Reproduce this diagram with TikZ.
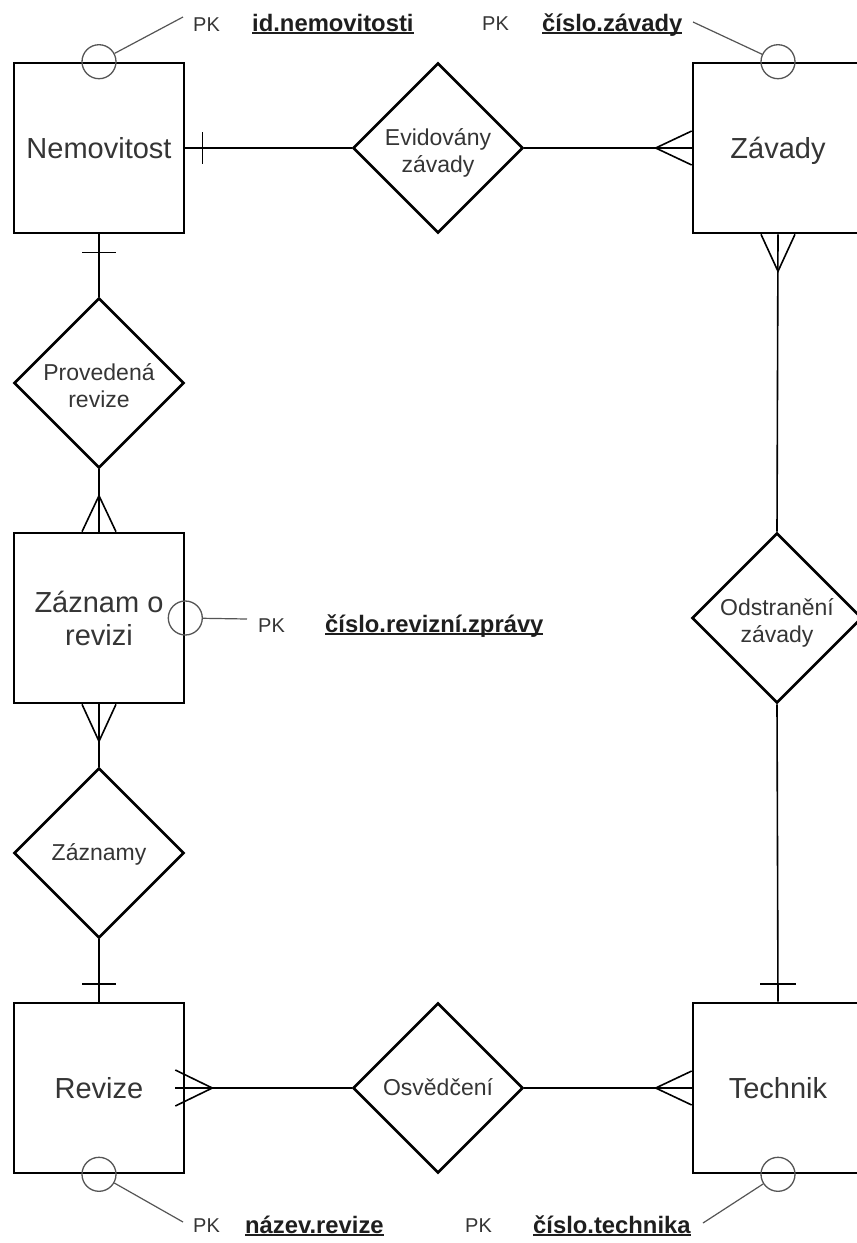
\documentclass[tikz,border=0pt]{standalone}
\usepackage{fontspec}
\setmainfont{Liberation Sans}
\usetikzlibrary{shapes.geometric,calc}
\definecolor{txt}{HTML}{353535}
\definecolor{circ}{HTML}{555555}
\definecolor{keycol}{HTML}{1E1E1E}
\newcommand{\myul}[1]{\setbox0\hbox{#1}\rlap{\rule[-2.6pt]{\wd0}{1.6pt}}\box0}
\newcommand{\mytwo}[3]{\raisebox{0pt}[0pt][#3]{\vtop{\halign{\hfil##\hfil\cr #1\cr #2\cr}}}}
\newcommand{\myone}[2]{\raisebox{0pt}[#2][0pt]{#1}}
\begin{document}
\begin{tikzpicture}[x=1pt,y=-1pt,
  entity/.style={draw, line width=2.6pt, minimum width=170pt, minimum height=170pt, inner sep=0pt, text=txt, font=\fontsize{29}{33}\selectfont},
  rel/.style={diamond, draw, line width=2.6pt, minimum width=170pt, minimum height=170pt, inner sep=0pt, text=txt, font=\fontsize{23}{27}\selectfont},
  conn/.style={line width=1.6pt},
  pkcirc/.style={circle, draw=circ, line width=1.3pt, minimum size=34pt, inner sep=0pt},
  pkline/.style={draw=circ, line width=1.2pt},
  pk/.style={text=txt, font=\fontsize{20}{24}\selectfont, anchor=base west, inner sep=0pt},
  key/.style={text=keycol, font=\bfseries\fontsize{23.8}{28}\selectfont, anchor=base west, inner sep=0pt}]
\useasboundingbox (0,0) rectangle (857,1243);
\fill[white] (0,0) rectangle (857,1243);
\clip (0,0) rectangle (857,1243);

% entities
\node[entity] (nem) at (99,148) {\myone{Nemovitost}{20pt}};
\node[entity] (zav) at (778,148) {\myone{Závady}{20pt}};
\node[entity] (zaz) at (99,618) {\mytwo{Záznam o}{revizi}{12pt}};
\node[entity] (rev) at (99,1088) {\myone{Revize}{20pt}};
\node[entity] (tech) at (778,1088) {\myone{Technik}{20pt}};

% relationships
\node[rel] (evid) at (438,148) {\mytwo{Evidovány}{závady}{6pt}};
\node[rel] (prov) at (99,383) {\mytwo{Provedená}{revize}{6pt}};
\node[rel] (odst) at (777,618) {\mytwo{Odstranění}{závady}{6pt}};
\node[rel] (zazn) at (99,853) {\myone{Záznamy}{15pt}};
\node[rel] (osv) at (438,1088) {\myone{Osvědčení}{14pt}};

% connectors
\draw[conn] (nem.east) -- (evid.west);
\draw[conn] ($(nem.east)+(17,-16)$) -- ($(nem.east)+(17,16)$);
\draw[conn] (evid.east) -- (zav.west);
\draw[conn] ($(zav.west)+(0,-17)$) -- ($(zav.west)+(-36,0)$) -- ($(zav.west)+(0,17)$);

\draw[conn] (nem.south) -- (prov.north);
\draw[conn] ($(nem.south)+(-17,18)$) -- ($(nem.south)+(17,18)$);
\draw[conn] (prov.south) -- (zaz.north);
\draw[conn] ($(zaz.north)+(-17,0)$) -- ($(zaz.north)+(0,-36)$) -- ($(zaz.north)+(17,0)$);

\draw[conn] (zaz.south) -- (zazn.north);
\draw[conn] ($(zaz.south)+(-17,0)$) -- ($(zaz.south)+(0,37)$) -- ($(zaz.south)+(17,0)$);
\draw[conn] (zazn.south) -- (rev.north);
\draw[conn] ($(rev.north)+(-17,-18)$) -- ($(rev.north)+(17,-18)$);

\draw[conn] ($(rev.east)+(-10,0)$) -- (osv.west);
\draw[conn] ($(rev.east)+(-10,-18)$) -- ($(rev.east)+(27,0)$) -- ($(rev.east)+(-10,18)$);
\draw[conn] (osv.east) -- (tech.west);
\draw[conn] ($(tech.west)+(0,-17)$) -- ($(tech.west)+(-36,0)$) -- ($(tech.west)+(0,17)$);

\draw[conn] (zav.south) -- (odst.north);
\draw[conn] ($(zav.south)+(-17,0)$) -- ($(zav.south)+(0,37)$) -- ($(zav.south)+(17,0)$);
\draw[conn] (odst.south) -- (tech.north);
\draw[conn] ($(tech.north)+(-18,-18)$) -- ($(tech.north)+(18,-18)$);

% primary keys
\node[pkcirc] (c1) at (nem.north) {};
\node[pkcirc] (c2) at (zav.north) {};
\node[pkcirc] (c3) at (zaz.east) {};
\node[pkcirc] (c4) at (rev.south) {};
\node[pkcirc] (c5) at (tech.south) {};
\coordinate (e1) at (183,17);
\coordinate (e2) at (693,22);
\coordinate (e3) at (247,619);
\coordinate (e4) at (183,1222);
\coordinate (e5) at (703,1223);
\draw[pkline] (c1) -- (e1);
\draw[pkline] (c2) -- (e2);
\draw[pkline] (c3) -- (e3);
\draw[pkline] (c4) -- (e4);
\draw[pkline] (c5) -- (e5);

\node[pk] (pk1) at (193,31) {PK};
\node[key] (k1) at (252,31) {\myul{id.nemovitosti}};
\node[pk] (pk2) at (482,30) {PK};
\node[key] (k2) at (542,31) {\myul{číslo.závady}};
\node[pk] (pk3) at (258,632) {PK};
\node[key] (k3) at (325,632) {\myul{číslo.revizní.zprávy}};
\node[pk] (pk4) at (193,1232) {PK};
\node[key] (k4) at (245,1233) {\myul{název.revize}};
\node[pk] (pk5) at (465,1232) {PK};
\node[key] (k5) at (533,1233) {\myul{číslo.technika}};
\end{tikzpicture}
\end{document}
